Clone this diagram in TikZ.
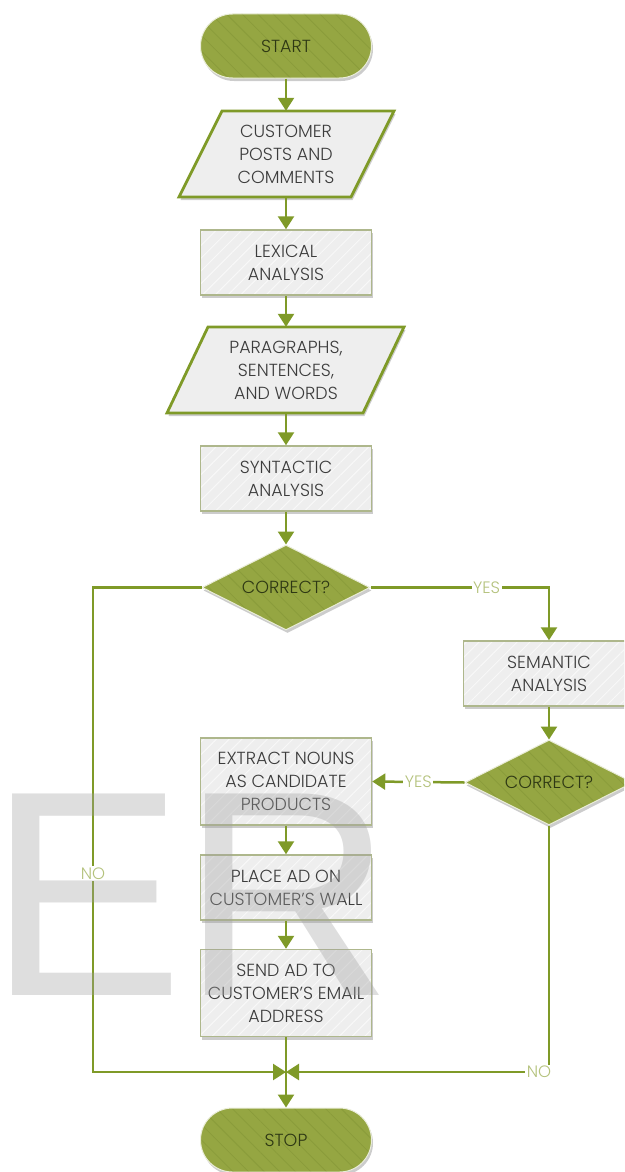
\documentclass[tikz,border=0pt]{standalone}
\usepackage{fontspec}
\setmainfont{Poppins}[UprightFont=* Light]
\newfontfamily\wmfont{Liberation Sans}
\usetikzlibrary{arrows.meta,shapes.geometric,shadows,patterns.meta}
\definecolor{lineg}{HTML}{7F9A28}
\definecolor{fillg}{HTML}{95A642}
\definecolor{stripeg}{HTML}{8A9C3B}
\definecolor{boxfill}{HTML}{EEEEEE}
\definecolor{boxedge}{HTML}{AEB78C}
\definecolor{lblg}{HTML}{B4C27C}
\definecolor{txtd}{HTML}{3C3C3C}
\definecolor{txtg}{HTML}{2E3814}
\definecolor{wmgray}{HTML}{A0A0A0}
\begin{document}
\begin{tikzpicture}[x=1pt,y=-1pt,
  font=\fontsize{17.5}{23}\selectfont,
  shd/.style={drop shadow={shadow xshift=1.5pt,shadow yshift=-3pt,opacity=0.2,fill=black}},
  gstripe/.style={preaction={fill=fillg}, pattern={Lines[angle=-45,distance=11pt,line width=0.8pt]}, pattern color=stripeg},
  wstripe/.style={preaction={fill=boxfill}, pattern={Lines[angle=45,distance=9pt,line width=1pt]}, pattern color=white!60!boxfill},
  term/.style={shd, gstripe, draw=white!80!fillg, line width=1pt, rectangle, rounded corners=32pt, minimum width=171pt, minimum height=64pt, text=txtg, inner sep=0pt},
  dia/.style={shd, gstripe, draw=white!80!fillg, line width=1pt, diamond, shape aspect=2, minimum width=168pt, minimum height=85pt, text=txtg, inner sep=0pt},
  box/.style={shd, wstripe, draw=boxedge, line width=1.5pt, rectangle, minimum width=171pt, minimum height=65pt, text=txtd, align=center, inner sep=0pt},
  para/.style={shd, draw=lineg, line width=2.8pt, fill=boxfill, line join=miter},
  ptext/.style={text=txtd, align=center, inner sep=0pt, minimum width=10pt},
  arr/.style={draw=lineg, line width=2.5pt, -{Triangle[width=16pt,length=13pt]}},
  lbl/.style={fill=white, text=lblg, inner sep=1.5pt, font=\fontsize{16.5}{16.5}\selectfont},
  wm/.style={font=\wmfont\fontsize{293}{293}\selectfont, text=wmgray, text opacity=0.35, inner sep=0pt}
]
\useasboundingbox (0,0) rectangle (624,1172);
\clip (0,0) rectangle (624,1172);

% terminals
\node[term] (start) at (286,46) {START};
\node[term] (stop) at (286,1140) {STOP};

% parallelograms
\draw[para] (222,111) -- (394,111) -- (351,197) -- (179,197) -- cycle;
\node[ptext, minimum height=86pt] (cust) at (286,154) {CUSTOMER\\POSTS AND\\COMMENTS};
\draw[para] (208,327) -- (404,327) -- (363,413) -- (167,413) -- cycle;
\node[ptext, minimum height=86pt] (para) at (286,370) {PARAGRAPHS,\\SENTENCES,\\AND WORDS};

% boxes
\node[box] (lex) at (286,262.5) {LEXICAL\\ANALYSIS};
\node[box] (syn) at (286,478.5) {SYNTACTIC\\ANALYSIS};
\node[box] (sem) at (549,673.5) {SEMANTIC\\ANALYSIS};
\node[box, minimum height=87pt] (ext) at (286,781.5) {EXTRACT NOUNS\\AS CANDIDATE\\PRODUCTS};
\node[box] (place) at (286,887.5) {PLACE AD ON\\CUSTOMER’S WALL};
\node[box, minimum height=87pt] (send) at (286,993) {SEND AD TO\\CUSTOMER’S EMAIL\\ADDRESS};

% decisions
\node[dia] (d1) at (286,587.5) {CORRECT?};
\node[dia] (d2) at (549,782.5) {CORRECT?};

% helper coordinates
\coordinate (yr) at (549,587.5);
\coordinate (lc1) at (93,587.5);
\coordinate (lc2) at (93,1072);
\coordinate (rc) at (549,1072);
\coordinate (merge) at (286,1072);

% connectors
\draw[arr] (start) -- (cust);
\draw[arr] (cust) -- (lex);
\draw[arr] (lex) -- (para);
\draw[arr] (para) -- (syn);
\draw[arr] (syn) -- (d1);
\draw[arr] (d1.east) -- node[lbl,pos=0.65] {YES} (yr) -- (sem.north);
\draw[arr] (sem) -- (d2);
\draw[arr] (d2.west) -- node[lbl] {YES} (ext.east);
\draw[arr] (ext) -- (place);
\draw[arr] (place) -- (send);
\draw[arr] (d1.west) -- (lc1) -- node[lbl,pos=0.59] {NO} (lc2) -- (merge);
\draw[arr] (d2.south) -- (rc) -- (merge);
\node[lbl] (nor) at (539,1072) {NO};
\draw[arr] (send) -- (stop);

% watermark
\node[wm, anchor=base] (wmE) at (86,995) {E};
\node[wm, anchor=base] (wmR) at (287,995) {R};
\end{tikzpicture}
\end{document}
